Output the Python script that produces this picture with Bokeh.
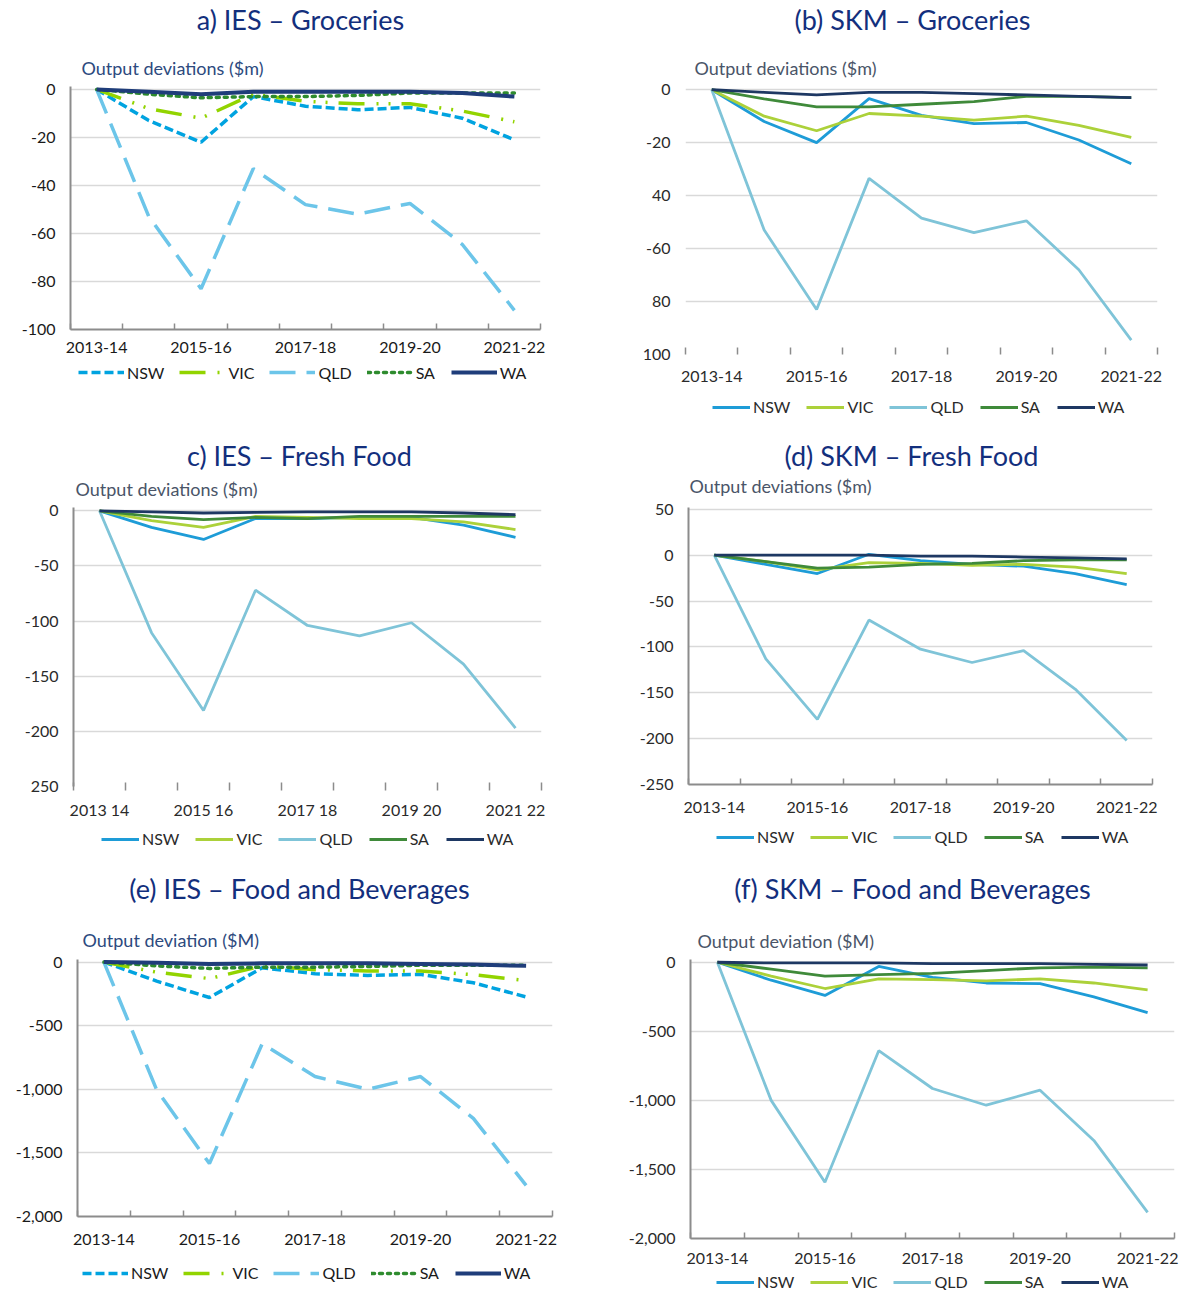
from bokeh.plotting import figure
from bokeh.models import Range1d, FixedTicker, Legend, LegendItem
from bokeh.core.properties import value
from bokeh.layouts import column, row
from bokeh.embed import file_html
from bokeh.resources import INLINE

# ---------------- data ----------------
categories = ["2013-14", "2014-15", "2015-16", "2016-17", "2017-18",
              "2018-19", "2019-20", "2020-21", "2021-22"]
label_idx = [0, 2, 4, 6, 8]
xlabels_std = ["2013-14", "2015-16", "2017-18", "2019-20", "2021-22"]
xlabels_c = ["2013 14", "2015 16", "2017 18", "2019 20", "2021 22"]
states = ["NSW", "VIC", "QLD", "SA", "WA"]

# a) IES - Groceries ($m)
a_nsw = [0, -13, -22, -3, -7, -8.5, -7.5, -12, -21]
a_vic = [0, -8, -12, -2, -5, -6, -6, -9, -13.5]
a_qld = [0, -53, -83, -33, -48, -52, -47.5, -64.5, -92]
a_sa = [0, -2, -3.5, -3, -3, -2.5, -1.5, -1.5, -1.5]
a_wa = [0, -1, -2, -1, -1, -1, -1, -1.5, -3]
a_yticks = [0, -20, -40, -60, -80, -100]
a_ylabels = ["0", "-20", "-40", "-60", "-80", "-100"]

# (b) SKM - Groceries ($m)
b_nsw = [0, -12, -20, -3.4, -9.7, -12.8, -12.4, -19, -28]
b_vic = [0, -10, -15.5, -9, -10, -11.5, -10, -13.5, -18]
b_qld = [0, -53, -83, -33.5, -48.5, -54, -49.5, -68, -94.6]
b_sa = [0, -3.5, -6.5, -6.5, -5.5, -4.5, -2.5, -2.5, -3]
b_wa = [0, -1, -2, -1, -1, -1.5, -2, -2.5, -3]
b_yticks = [0, -20, -40, -60, -80, -100]
b_ylabels = ["0", "-20", "40", "-60", "80", "100"]

# c) IES - Fresh Food ($m)
c_nsw = [0, -15, -26, -7, -7, -6, -6, -13, -24]
c_vic = [0, -9, -15, -5, -6, -7, -7, -10, -17]
c_qld = [0, -110.5, -181, -72, -104, -113.5, -101.5, -139, -197]
c_sa = [0, -5, -8, -6, -7, -5, -5, -5, -5]
c_wa = [0, -1, -2, -1.5, -1, -1, -1, -2, -3.5]
c_yticks = [0, -50, -100, -150, -200, -250]
c_ylabels = ["0", "-50", "-100", "-150", "-200", "250"]

# (d) SKM - Fresh Food ($m)
d_nsw = [0, -10, -20, 1, -6, -10, -12, -20, -32]
d_vic = [0, -7, -16, -8, -9, -11, -10, -13, -20]
d_qld = [0, -113, -179, -70.7, -102.5, -117, -104, -146, -202]
d_sa = [0, -7, -14, -13, -10, -9, -6, -5, -5]
d_wa = [0, 0, 0, 0, -1, -1, -2, -3, -4]
d_yticks = [50, 0, -50, -100, -150, -200, -250]
d_ylabels = ["50", "0", "-50", "-100", "-150", "-200", "-250"]

# (e) IES - Food and Beverages ($M)
e_nsw = [0, -150, -279, -45, -92, -105, -97, -163, -274]
e_vic = [0, -80, -130, -30, -60, -70, -70, -100, -145]
e_qld = [0, -1005, -1584, -642, -900, -1000, -900, -1229, -1755]
e_sa = [0, -30, -50, -40, -40, -35, -25, -25, -25]
e_wa = [0, -5, -15, -10, -10, -10, -15, -20, -30]
e_yticks = [0, -500, -1000, -1500, -2000]
e_ylabels = ["0", "-500", "-1,000", "-1,500", "-2,000"]

# (f) SKM - Food and Beverages ($M)
f_nsw = [0, -130, -240, -30, -110, -150, -155, -250, -365]
f_vic = [0, -100, -190, -120, -125, -135, -120, -150, -200]
f_qld = [0, -1000, -1593, -640, -914, -1035, -926, -1290, -1811]
f_sa = [0, -50, -100, -90, -80, -60, -40, -35, -40]
f_wa = [0, -5, -5, -5, -10, -10, -10, -15, -20]
f_yticks = [0, -500, -1000, -1500, -2000]
f_ylabels = ["0", "-500", "-1,000", "-1,500", "-2,000"]

# ---------------- styles ----------------
FONT = "Lato"
TITLE_COLOR = "#132f7d"
dash_colors = {"NSW": "#00a3e0", "VIC": "#92d400", "QLD": "#6cc5e9",
               "SA": "#2e8b2e", "WA": "#1f3d7a"}
dash_styles = {"NSW": "9 4", "VIC": "26 12 2 10 2 11", "QLD": "26 11",
               "SA": "3 5", "WA": "solid"}
dash_widths = {"NSW": 3.5, "VIC": 3.5, "QLD": 3.5, "SA": 3.5, "WA": 4}
solid_colors = {"NSW": "#1e9cd7", "VIC": "#acd13a", "QLD": "#7fc4d8",
                "SA": "#3f8a3a", "WA": "#1e3863"}

W = 598


def line_style(st, dashed):
    if dashed:
        return dict(line_color=dash_colors[st], line_width=dash_widths[st],
                    line_dash=dash_styles[st],
                    line_cap="round" if st == "SA" else "butt")
    return dict(line_color=solid_colors[st], line_width=2.8)


def strip(height, bl, br, fw, x0):
    # helper canvas whose frame matches the chart frame; coordinates are local pixels
    s = figure(frame_width=fw, frame_height=height, output_backend="svg",
               min_border_left=bl, min_border_right=br,
               min_border_top=0, min_border_bottom=0,
               toolbar_location=None, x_axis_type=None, y_axis_type=None,
               x_range=Range1d(x0, x0 + fw), y_range=Range1d(height, 0), title=None)
    s.outline_line_color = None
    s.grid.visible = False
    s.background_fill_color = "white"
    s.border_fill_color = "white"
    return s


def make_panel(title, subtitle, series, yr, yticks, ylabels, xlabels,
               ox, row_top, row_bot, frame, top_b, dashed, title_pos, sub_pos,
               label_so, bot_b, leg_left, leg_cy, leg_h, leg_glyph, leg_space,
               left_axis, bottom_axis, tick_in, tick_out, grid_ticks,
               sub_color, text_color):
    L, R, T, B = frame
    bl, br, fw = L - ox, ox + W - R, R - L

    # ---- title strip ----
    th = T - top_b - row_top
    ts = strip(th, bl, br, fw, bl)
    ts.text(x=[title_pos[0] - ox], y=[title_pos[1] - row_top], text=[title],
            text_align="center", text_baseline="middle",
            text_font=value(FONT), text_font_size=value("27px"),
            text_color=TITLE_COLOR)
    sub_y = min(sub_pos[1], T - top_b - 12)
    ts.text(x=[sub_pos[0] - ox], y=[sub_y - row_top], text=[subtitle],
            text_align="left", text_baseline="middle",
            text_font=value(FONT), text_font_size=value("18px"),
            text_color=sub_color)

    # ---- main chart ----
    p = figure(frame_width=fw, frame_height=B - T,
               output_backend="svg", toolbar_location=None,
               x_range=Range1d(-0.5, 8.5), y_range=Range1d(*yr), title=None,
               min_border_left=bl, min_border_right=br,
               min_border_top=top_b, min_border_bottom=bot_b)
    p.outline_line_color = None
    p.background_fill_color = "white"
    p.border_fill_color = "white"

    xs = list(range(len(categories)))
    for st, vals in zip(states, series):
        p.line(xs, vals, **line_style(st, dashed))

    xa = p.xaxis[0]
    xa.ticker = FixedTicker(ticks=label_idx,
                            minor_ticks=[i - 0.5 for i in range(len(categories) + 1)])
    xa.major_label_overrides = {i: lab for i, lab in zip(label_idx, xlabels)}
    xa.major_tick_line_color = None
    xa.major_tick_out = 0
    xa.major_tick_in = 0
    xa.minor_tick_line_color = "#8c8c8c"
    xa.minor_tick_line_width = 1.5
    xa.minor_tick_in = tick_in
    xa.minor_tick_out = tick_out
    xa.axis_line_color = "#8c8c8c" if bottom_axis else None
    xa.axis_line_width = 2
    xa.major_label_text_font = FONT
    xa.major_label_text_font_size = "16px"
    xa.major_label_text_color = text_color
    xa.major_label_standoff = label_so

    ya = p.yaxis[0]
    ya.ticker = FixedTicker(ticks=yticks)
    ya.major_label_overrides = {t: lab for t, lab in zip(yticks, ylabels)}
    ya.major_tick_line_color = None
    ya.major_tick_out = 0
    ya.major_tick_in = 0
    ya.minor_tick_line_color = None
    ya.axis_line_color = "#8c8c8c" if left_axis else None
    ya.axis_line_width = 2
    ya.major_label_text_font = FONT
    ya.major_label_text_font_size = "16px"
    ya.major_label_text_color = text_color
    ya.major_label_standoff = 15

    p.xgrid.visible = False
    p.ygrid.ticker = FixedTicker(ticks=grid_ticks)
    p.ygrid.grid_line_color = "#d9d9d9"
    p.ygrid.grid_line_width = 1.5

    # ---- legend strip ----
    lstart = B + bot_b
    lh = row_bot - lstart
    ls = strip(lh, bl, br, fw, bl)
    items = []
    for st in states:
        r = ls.line([float("nan")], [float("nan")], **line_style(st, dashed))
        items.append(LegendItem(label=st, renderers=[r]))
    top_in = max(1, leg_cy - leg_h / 2 - lstart)
    leg = Legend(items=items, orientation="horizontal",
                 location=(max(0, leg_left - L), lh - top_in - leg_h),
                 glyph_width=leg_glyph, glyph_height=leg_h,
                 label_height=leg_h, label_standoff=3, spacing=leg_space,
                 padding=0, margin=0,
                 border_line_color=None, background_fill_alpha=0,
                 label_text_font=FONT, label_text_font_size="16px",
                 label_text_color=text_color)
    ls.add_layout(leg, "center")

    return column(ts, p, ls, spacing=0)


pa = make_panel("a) IES \u2013 Groceries", "Output deviations ($m)",
                [a_nsw, a_vic, a_qld, a_sa, a_wa], (-100, 1.2), a_yticks, a_ylabels,
                xlabels_std, 0, 0, 430, (70, 540, 86, 329), 7, True,
                (300, 19), (81, 69), 12, 32, 78, 367, 20, 46, 15,
                True, True, 6, 0, a_yticks, "#2d4a7e", "#1a1a1a")
pb = make_panel("(b) SKM \u2013 Groceries", "Output deviations ($m)",
                [b_nsw, b_vic, b_qld, b_sa, b_wa], (-100, 1.2), b_yticks, b_ylabels,
                xlabels_std, 598, 0, 430, (685, 1157, 86, 354), 7, False,
                (912, 19), (694, 72), 16, 36, 712, 407, 18, 38, 16,
                False, False, 7, 0, b_yticks[:-1], "#4a5568", "#2a2a2a")
pc = make_panel("c) IES \u2013 Fresh Food", "Output deviations ($m)",
                [c_nsw, c_vic, c_qld, c_sa, c_wa], (-250, 3), c_yticks, c_ylabels,
                xlabels_c, 0, 430, 860, (73, 541, 507, 786), 7, False,
                (299, 455), (75, 497), 9, 37, 101, 839, 18, 38, 16,
                True, False, 4, 4, c_yticks[:-1], "#4a5568", "#2a2a2a")
pd_ = make_panel("(d) SKM \u2013 Fresh Food", "Output deviations ($m)",
                 [d_nsw, d_vic, d_qld, d_sa, d_wa], (-250, 52), d_yticks, d_ylabels,
                 xlabels_std, 598, 430, 860, (688, 1152, 507, 784), 10, False,
                 (911, 455), (689, 497), 17, 37, 716, 837, 18, 38, 16,
                 True, True, 6, 0, d_yticks, "#4a5568", "#2a2a2a")
pe = make_panel("(e) IES \u2013 Food and Beverages", "Output deviation ($M)",
                [e_nsw, e_vic, e_qld, e_sa, e_wa], (-2000, 20), e_yticks, e_ylabels,
                xlabels_std, 0, 860, 1290, (77, 552, 959, 1216), 7, True,
                (299, 888), (82, 939), 17, 37, 82, 1273, 18, 46, 15,
                True, True, 6, 0, e_yticks, "#2d4a7e", "#1a1a1a")
pf = make_panel("(f) SKM \u2013 Food and Beverages", "Output deviation ($M)",
                [f_nsw, f_vic, f_qld, f_sa, f_wa], (-2000, 20), f_yticks, f_ylabels,
                xlabels_std, 598, 860, 1290, (690, 1174, 959, 1238), 7, False,
                (912, 888), (697, 940), 14, 34, 716, 1280, 18, 38, 16,
                True, True, 6, 0, f_yticks, "#4a5568", "#2a2a2a")

layout = column(row(pa, pb, spacing=0), row(pc, pd_, spacing=0),
                row(pe, pf, spacing=0), spacing=0)

open("out.html", "w").write(file_html(layout, INLINE))
